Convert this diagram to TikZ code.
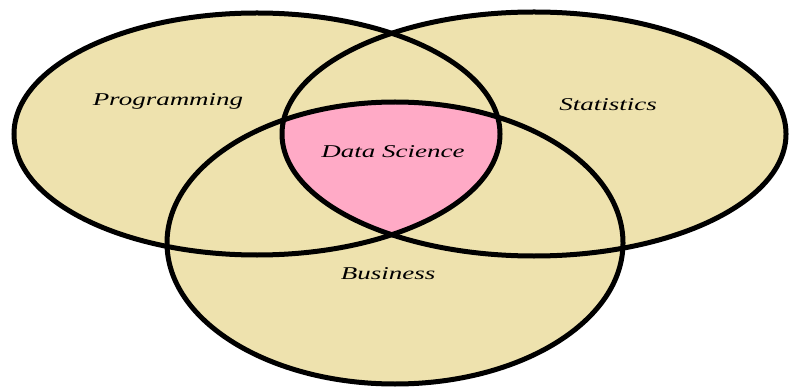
\documentclass[tikz,border=0pt]{standalone}
\usepackage{fontspec}
\setmainfont{Liberation Serif}
\definecolor{venntan}{RGB}{238,226,174}
\definecolor{vennpink}{RGB}{255,170,198}

\begin{document}
\begin{tikzpicture}[x=1pt, y=-1pt]
	\tikzstyle{setfill}=[fill=venntan, draw=none]
	\tikzstyle{setline}=[draw=black, line width=5pt]
	\tikzstyle{setlabel}=[font=\fontsize{18}{20}\selectfont\itshape, text=black, xscale=1.5, inner sep=0pt]
	
	\useasboundingbox (0,0) rectangle (791,387);
	
	\coordinate (prog) at (257,134);
	\coordinate (stat) at (534,134);
	\coordinate (bus) at (395,243);
	
	%% sets
	\fill [setfill] (prog) ellipse [x radius=243pt, y radius=121pt];
	\fill [setfill] (stat) ellipse [x radius=252pt, y radius=122pt];
	\fill [setfill] (bus) ellipse [x radius=228pt, y radius=141pt];
	
	%% common part
	\begin{scope}
		\clip (prog) ellipse [x radius=243pt, y radius=121pt];
		\clip (stat) ellipse [x radius=252pt, y radius=122pt];
		\fill [vennpink] (bus) ellipse [x radius=228pt, y radius=141pt];
	\end{scope}
	
	\draw [setline] (prog) ellipse [x radius=243pt, y radius=121pt];
	\draw [setline] (stat) ellipse [x radius=252pt, y radius=122pt];
	\draw [setline] (bus) ellipse [x radius=228pt, y radius=141pt];
	
	\node [setlabel] (Tprog) at (168,101) {Programming};
	\node [setlabel] (Tstat) at (608,105) {Statistics};
	\node [setlabel] (Tds) at (393,152) {Data Science};
	\node [setlabel] (Tbus) at (388,274) {Business};
\end{tikzpicture}
\end{document}
